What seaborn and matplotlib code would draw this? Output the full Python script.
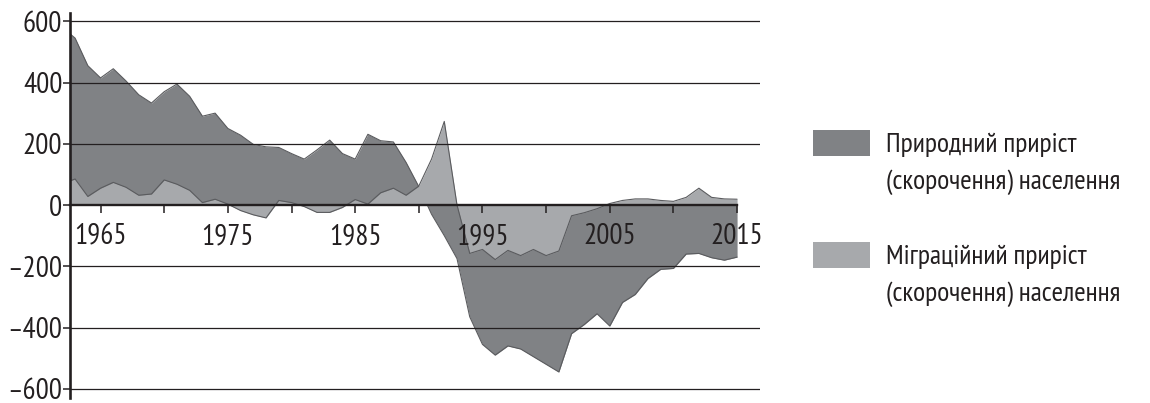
import matplotlib
matplotlib.use('Agg')
import matplotlib.pyplot as plt
import seaborn as sns
import pandas as pd
from matplotlib.patches import Patch

# ---- data (thousand persons) ----
years = list(range(1962, 2016))
natural = [580, 545, 455, 415, 445, 405, 360, 333, 370, 395,
           355, 290, 300, 250, 228, 198, 190, 188, 168, 150,
           180, 212, 168, 150, 231, 210, 206, 139, 60, -30,
           -100, -175, -365, -455, -490, -460, -470, -495, -520, -545,
           -420, -390, -355, -395, -318, -292, -240, -210, -207, -160,
           -158, -172, -180, -170]
migration = [70, 85, 28, 55, 74, 58, 32, 36, 82, 68,
             48, 8, 19, 3, -18, -32, -42, 15, 8, -5,
             -24, -24, -8, 18, 3, 40, 55, 32, 62, 150,
             273, 0, -158, -145, -178, -148, -165, -145, -165, -150,
             -35, -25, -12, 5, 15, 20, 20, 15, 12, 25,
             55, 25, 20, 19]
y_ticks = [-600, -400, -200, 0, 200, 400, 600]
y_tick_labels = ['–600', '–400', '–200', '0', '200', '400', '600']
x_label_years = [1965, 1975, 1985, 1995, 2005, 2015]
x_minor_years = [1970, 1980, 1990, 2000, 2010]
legend_labels = ['Природний приріст', '(скорочення) населення',
                 'Міграційний приріст', '(скорочення) населення']

DARK = '#808285'
LIGHT = '#a7a9ac'
EDGE = '#5a5b5e'
INK = '#231f20'

sns.set_theme(style='ticks')
plt.rcParams['font.family'] = ['PT Sans Narrow', 'Roboto Condensed',
                               'Fira Sans Condensed', 'DejaVu Sans']
plt.rcParams['text.color'] = INK

df = pd.DataFrame({'year': years, 'natural': natural, 'migration': migration})

fig = plt.figure(figsize=(11.5, 4.03), dpi=100)
ax = fig.add_axes([70 / 1150, 5 / 403, 690 / 1150, 385 / 403])

ax.fill_between(df['year'], 0, df['natural'], color=DARK, lw=0, zorder=1)
sns.lineplot(data=df, x='year', y='natural', ax=ax, color=EDGE, lw=0.8, zorder=1.05)
ax.fill_between(df['year'], 0, df['migration'], color=LIGHT, lw=0, zorder=1.1)
sns.lineplot(data=df, x='year', y='migration', ax=ax, color=EDGE, lw=0.8, zorder=1.15)

x0, x1 = 1962.6, 2016.8
ax.set_xlim(x0, x1)
ax.set_ylim(-630, 627)
ax.set_xlabel('')
ax.set_ylabel('')

for v in y_ticks:
    if v != 0:
        ax.axhline(v, color=INK, lw=0.9, zorder=2)

for s in ['top', 'right']:
    ax.spines[s].set_visible(False)
ax.spines['left'].set_linewidth(1.9)
ax.spines['left'].set_color(INK)
ax.spines['bottom'].set_position(('data', 0))
ax.spines['bottom'].set_bounds(x0, years[-1])
ax.spines['bottom'].set_linewidth(1.7)
ax.spines['bottom'].set_color(INK)
ax.set_axisbelow(False)

ax.set_xticks(x_label_years)
ax.set_xticks(x_minor_years, minor=True)
ax.tick_params(axis='x', which='both', bottom=True, direction='out', length=6,
               width=1.1, color=INK, pad=7, labelsize=21, labelcolor=INK)
ax.set_yticks(y_ticks, y_tick_labels)
ax.tick_params(axis='y', left=True, direction='out', length=5, width=1.1,
               color=INK, pad=0.5, labelsize=21, labelcolor=INK)

handles = [Patch(facecolor=DARK, edgecolor='none'),
           Patch(facecolor='none', edgecolor='none'),
           Patch(facecolor='none', edgecolor='none'),
           Patch(facecolor=LIGHT, edgecolor='none'),
           Patch(facecolor='none', edgecolor='none')]
labels = [legend_labels[0], legend_labels[1], '', legend_labels[2], legend_labels[3]]
fig.legend(handles, labels, loc='upper left', bbox_to_anchor=(813 / 1150, 1 - 130 / 403),
           frameon=False, fontsize=20, handlelength=2.05, handleheight=1.04,
           handletextpad=0.58, labelspacing=0.35, borderpad=0, borderaxespad=0,
           labelcolor=INK)

fig.savefig('out.png', dpi=100)
